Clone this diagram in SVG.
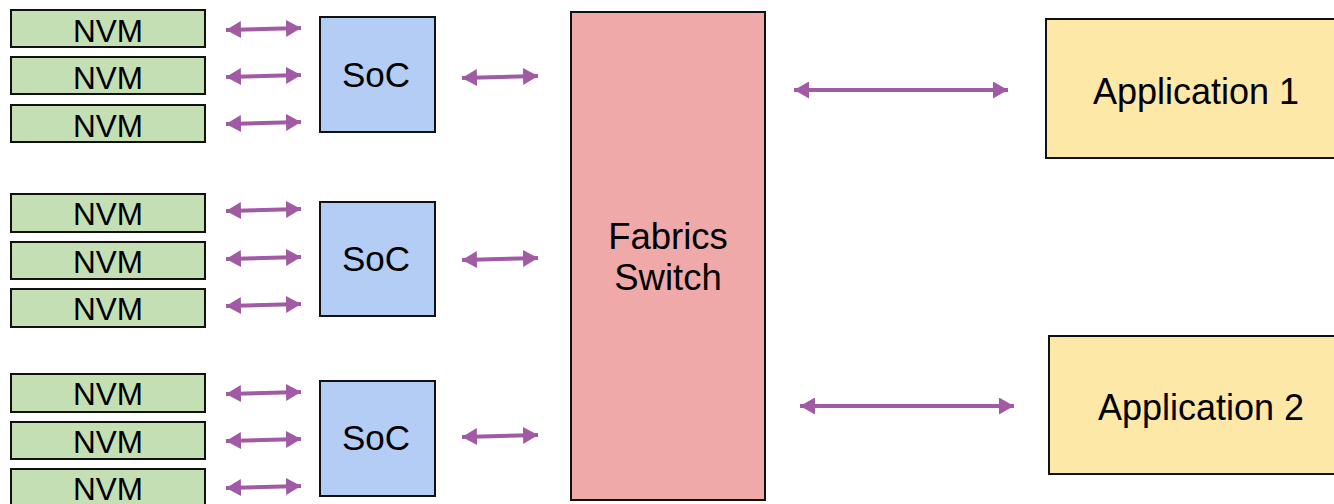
<svg xmlns="http://www.w3.org/2000/svg" width="1334" height="504" viewBox="0 0 1334 504">
  <defs>
    <style>
      .box { stroke: #111; stroke-width: 2; }
      .nvm { fill: #c5dfb5; }
      .soc { fill: #b4cdf4; }
      .sw { fill: #efa9a8; }
      .app { fill: #fde8a7; }
      text { font-family: "Liberation Sans", Arial, sans-serif; fill: #000; text-anchor: middle; }
      .t-nvm { font-size: 31.5px; }
      .t-soc { font-size: 35px; }
      .t-sw { font-size: 36.5px; }
      .t-app { font-size: 36px; }
      .link { stroke: #a15ba4; stroke-width: 4; fill: none; marker-start: url(#head); marker-end: url(#head); }
    </style>
    <marker id="head" markerUnits="userSpaceOnUse" viewBox="0 0 15 17" refX="15" refY="8.5" markerWidth="15" markerHeight="17" orient="auto-start-reverse">
      <path d="M0,0 L15,8.5 L0,17 Z" fill="#a15ba4"/>
    </marker>
  </defs>

  <rect width="1334" height="504" fill="#fff"/>

  <!-- storage group 1 -->
  <g id="nvm-1-1"><rect class="box nvm" x="11" y="10" width="194" height="37"/><text class="t-nvm" x="108" y="42">NVM</text></g>
  <g id="nvm-1-2"><rect class="box nvm" x="11" y="57" width="194" height="37"/><text class="t-nvm" x="108" y="89">NVM</text></g>
  <g id="nvm-1-3"><rect class="box nvm" x="11" y="105" width="194" height="37"/><text class="t-nvm" x="108" y="137">NVM</text></g>
  <g id="soc-1"><rect class="box soc" x="320" y="17" width="115" height="115"/><text class="t-soc" x="376" y="87">SoC</text></g>

  <!-- storage group 2 -->
  <g id="nvm-2-1"><rect class="box nvm" x="11" y="194" width="194" height="38"/><text class="t-nvm" x="108" y="225">NVM</text></g>
  <g id="nvm-2-2"><rect class="box nvm" x="11" y="242" width="194" height="37"/><text class="t-nvm" x="108" y="273">NVM</text></g>
  <g id="nvm-2-3"><rect class="box nvm" x="11" y="289" width="194" height="38"/><text class="t-nvm" x="108" y="320">NVM</text></g>
  <g id="soc-2"><rect class="box soc" x="320" y="202" width="115" height="114"/><text class="t-soc" x="376" y="271">SoC</text></g>

  <!-- storage group 3 -->
  <g id="nvm-3-1"><rect class="box nvm" x="11" y="374" width="194" height="38"/><text class="t-nvm" x="108" y="405">NVM</text></g>
  <g id="nvm-3-2"><rect class="box nvm" x="11" y="422" width="194" height="37"/><text class="t-nvm" x="108" y="453">NVM</text></g>
  <g id="nvm-3-3"><rect class="box nvm" x="11" y="469" width="194" height="38"/><text class="t-nvm" x="108" y="500">NVM</text></g>
  <g id="soc-3"><rect class="box soc" x="320" y="381" width="115" height="115"/><text class="t-soc" x="376" y="450">SoC</text></g>

  <!-- switch -->
  <g id="switch">
    <rect class="box sw" x="571" y="12" width="194" height="488"/>
    <text class="t-sw" x="668" y="249">Fabrics</text>
    <text class="t-sw" x="668" y="290">Switch</text>
  </g>

  <!-- hosts -->
  <g id="app-1"><rect class="box app" x="1046" y="19" width="300" height="139"/><text class="t-app" x="1196" y="104">Application 1</text></g>
  <g id="app-2"><rect class="box app" x="1049" y="336" width="300" height="138"/><text class="t-app" x="1201" y="420">Application 2</text></g>

  <!-- links -->
  <g id="links">
    <line class="link" x1="226" y1="30" x2="301" y2="28"/>
    <line class="link" x1="226" y1="77" x2="301" y2="75"/>
    <line class="link" x1="226" y1="124" x2="301" y2="122"/>
    <line class="link" x1="462" y1="78" x2="538" y2="76"/>

    <line class="link" x1="226" y1="211" x2="301" y2="209"/>
    <line class="link" x1="226" y1="259" x2="301" y2="257"/>
    <line class="link" x1="226" y1="306" x2="301" y2="304"/>
    <line class="link" x1="462" y1="260" x2="538" y2="258"/>

    <line class="link" x1="226" y1="394" x2="301" y2="392"/>
    <line class="link" x1="226" y1="441" x2="301" y2="439"/>
    <line class="link" x1="226" y1="488" x2="301" y2="486"/>
    <line class="link" x1="462" y1="437" x2="538" y2="435"/>

    <line class="link" x1="794" y1="90" x2="1008" y2="90"/>
    <line class="link" x1="800" y1="406" x2="1014" y2="406"/>
  </g>
</svg>
